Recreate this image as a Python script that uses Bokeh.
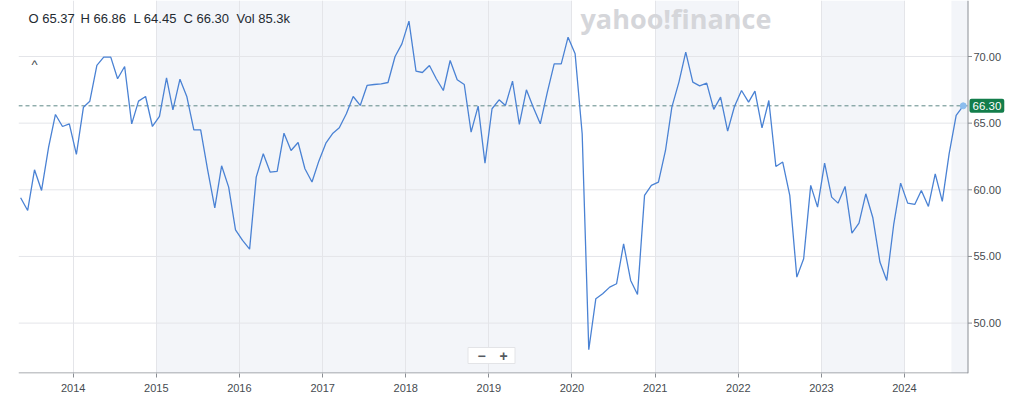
import pandas as pd
from bokeh.plotting import figure
from bokeh.models import (Range1d, FixedTicker, DatetimeTickFormatter,
                          BoxAnnotation, Span, Label)
from bokeh.core.properties import value
from bokeh.embed import file_html
from bokeh.resources import INLINE

# ---------------- data (monthly closes) ----------------
first_month = "2013-05-01"
closes = [
    59.40, 58.45, 61.50, 59.95, 63.20, 65.65, 64.75, 64.95, 62.65, 66.20,
    66.65, 69.33, 69.95, 69.95, 68.33, 69.25, 64.95, 66.65, 67.00, 64.75,
    65.50, 68.40, 66.00, 68.30, 67.00, 64.50, 64.50, 61.45, 58.65, 61.80,
    60.20, 57.00, 56.20, 55.55, 60.95, 62.70, 61.33, 61.38, 64.25, 62.95,
    63.55, 61.58, 60.58, 62.15, 63.50, 64.25, 64.65, 65.70, 67.00, 66.33,
    67.83, 67.90, 67.95, 68.05, 70.00, 70.95, 72.65, 68.90, 68.80, 69.33,
    68.33, 67.45, 69.70, 68.25, 67.90, 64.33, 66.28, 62.00, 66.08, 66.75,
    66.33, 68.15, 64.90, 67.50, 66.20, 64.95, 67.33, 69.45, 69.45, 71.45,
    70.20, 64.20, 48.00, 51.83, 52.20, 52.70, 52.95, 55.95, 53.20, 52.15,
    59.58, 60.33, 60.58, 62.95, 66.20, 68.08, 70.33, 68.08, 67.80, 68.00,
    66.03, 66.95, 64.40, 66.25, 67.45, 66.58, 67.40, 64.65, 66.70, 61.75,
    62.08, 59.58, 53.45, 54.83, 60.33, 58.70, 62.00, 59.45, 59.00, 60.25,
    56.75, 57.50, 59.70, 57.90, 54.58, 53.20, 57.45, 60.50, 59.00, 58.90,
    59.95, 58.75, 61.20, 59.13, 62.70, 65.58, 66.30,
]
dates = pd.date_range(first_month, periods=len(closes), freq="MS") + pd.Timedelta(days=14)

y_ticks = [50, 55, 60, 65, 70]
year_ticks = list(range(2014, 2025))
shaded_spans = [("2015-01-01", "2020-01-01"), ("2021-01-01", "2022-01-01"),
                ("2023-01-01", "2024-01-01"), ("2024-07-25", None)]
ohlc_parts = ["O 65.37", "H 66.86", "L 64.45", "C 66.30", "Vol 85.3k"]
last_close = 66.30

# ---------------- layout helpers (page pixel -> data) ----------------
def ms(t):
    return pd.Timestamp(t).value / 1e6

PX_PER_DAY = 831.3 / 3652.0
X_ANCHOR, X_ANCHOR_PX = ms("2014-01-01"), 72.7
PX_PER_UNIT, Y_ANCHOR_PX = 13.33, 56.0   # 70.00 sits at page y 56


def px_x(px):
    return X_ANCHOR + (px - X_ANCHOR_PX) / PX_PER_DAY * 86400000.0


def px_y(py):
    return 70.0 - (py - Y_ANCHOR_PX) / PX_PER_UNIT


W, H = 1016, 406
FL, FR_AXIS, FT, FB = 18, 967.5, 0, 373   # frame left, axis line, frame top, bottom

FONT = "Liberation Sans"
AXIS_COL = "#8a8e94"
GRID_COL = "#e4e5e9"

p = figure(width=W, height=H, x_axis_type="datetime", y_axis_location=None,
           output_backend="svg", toolbar_location=None, title=None,
           x_range=Range1d(px_x(FL), px_x(W)), y_range=Range1d(px_y(FB), px_y(FT)),
           min_border_left=FL, min_border_right=0, min_border_top=FT,
           min_border_bottom=H - FB)
p.outline_line_color = None
p.background_fill_color = "white"
p.border_fill_color = "white"

x_axis_end = px_x(FR_AXIS)
for a, b in shaded_spans:
    p.add_layout(BoxAnnotation(left=ms(a), right=ms(b) if b else x_axis_end,
                               fill_color="#f3f5f9", fill_alpha=1.0, line_color=None,
                               level="image"))

# vertical grid from the x ticker, horizontal grid drawn up to the axis line
p.ygrid.visible = False
p.xgrid.grid_line_color = GRID_COL
p.segment(x0=px_x(FL), x1=x_axis_end, y0=y_ticks, y1=y_ticks,
          line_color=GRID_COL, line_width=1)

# bottom axis
p.xaxis.ticker = FixedTicker(ticks=[ms(f"{y}-01-01") for y in year_ticks])
fmt = "%Y"
p.xaxis.formatter = DatetimeTickFormatter(years=fmt, months=fmt, days=fmt, hours=fmt,
                                          minutes=fmt, seconds=fmt, milliseconds=fmt,
                                          microseconds=fmt, hourmin=fmt, minsec=fmt)
ax = p.xaxis[0]
ax.axis_line_color = None
ax.major_tick_line_color = AXIS_COL
ax.major_tick_out = 4
ax.major_tick_in = 0
ax.minor_tick_line_color = None
ax.major_label_text_font = FONT
ax.major_label_text_font_size = "11px"
ax.major_label_text_color = "#464b50"
ax.major_label_standoff = 6
p.segment(x0=[px_x(FL)], x1=[x_axis_end], y0=[px_y(FB - 0.5)], y1=[px_y(FB - 0.5)],
          line_color=AXIS_COL, line_width=1)

# right price axis
p.add_layout(Span(location=x_axis_end, dimension="height", line_color=AXIS_COL,
                  line_width=1))
p.segment(x0=x_axis_end, x1=px_x(FR_AXIS + 4), y0=y_ticks, y1=y_ticks,
          line_color=AXIS_COL, line_width=1)
p.text(x=[px_x(973)] * len(y_ticks), y=y_ticks, text=[f"{t:.2f}" for t in y_ticks],
       text_baseline="middle", text_align="left", text_font=value(FONT),
       text_font_size=value("11px"), text_color="#464b50")

# last-close dashed line
p.segment(x0=[px_x(FL)], x1=[x_axis_end], y0=[last_close], y1=[last_close],
          line_color="#5e8886", line_dash="4 3", line_width=1)

p.line(dates, closes, line_color="#4a82d4", line_width=1.3)
p.scatter([dates[-1]], [closes[-1]], size=6, color="#8cbdee")

# header text
for txt, px in zip(ohlc_parts, [28, 80, 133, 183, 236]):
    p.add_layout(Label(x=px_x(px), y=px_y(18), text=txt, text_baseline="middle",
                       text_font=FONT, text_font_size="13px", text_color="#232a31"))

p.add_layout(Label(x=px_x(31), y=px_y(56), text="^", text_baseline="top",
                   text_font=FONT, text_font_size="13px", text_color="#444a50"))

p.add_layout(Label(x=px_x(580), y=px_y(18), text="yahoo!finance", text_baseline="middle",
                   text_font="Open Sans", text_font_style="bold", text_font_size="27px",
                   text_color="#d5d6da"))

# zoom buttons
p.rect([px_x(491)], [px_y(355)], width=47, height=16, width_units="screen",
       height_units="screen", fill_color="white", line_color="#e3e4e7")
p.add_layout(Label(x=px_x(481), y=px_y(355), text="\u2212", text_align="center",
                   text_baseline="middle", text_font=FONT, text_font_size="14px",
                   text_font_style="bold", text_color="#555a60"))
p.add_layout(Label(x=px_x(503), y=px_y(355), text="+", text_align="center",
                   text_baseline="middle", text_font=FONT, text_font_size="14px",
                   text_font_style="bold", text_color="#555a60"))

# price tag
p.add_layout(Label(x=px_x(969), y=last_close, text=f"{last_close:.2f}",
                   text_align="left", text_baseline="middle", text_color="white",
                   text_font=FONT, text_font_size="11.5px",
                   background_fill_color="#137d4b", padding=3, border_radius=2))

open("out.html", "w").write(file_html(p, INLINE))
